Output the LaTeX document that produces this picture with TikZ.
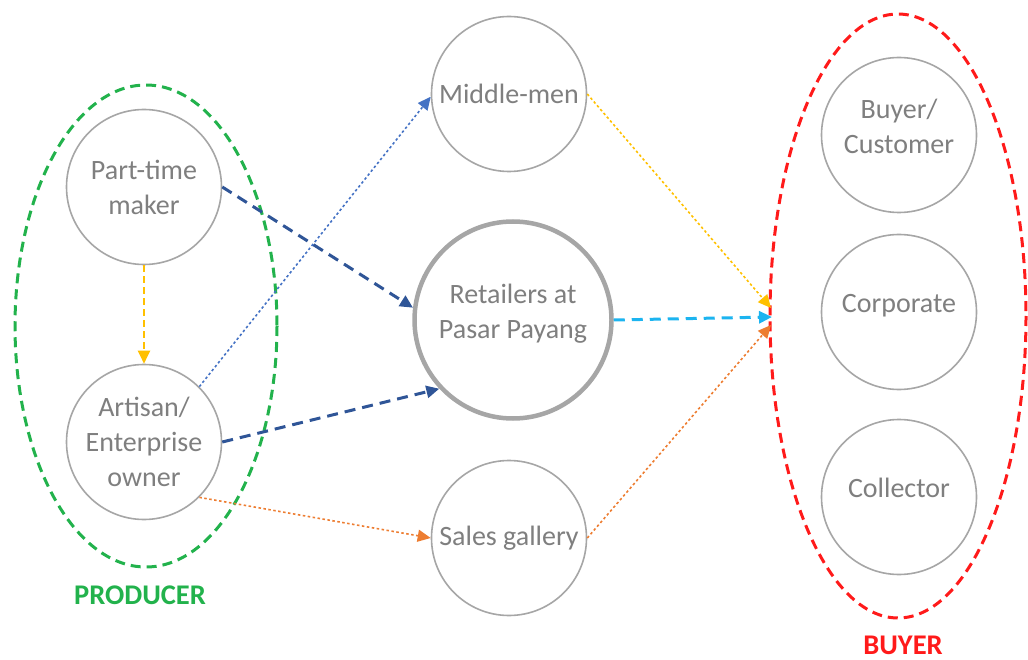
\documentclass[tikz,border=0pt]{standalone}
\usepackage{fontspec}
\setmainfont{Carlito}
\usetikzlibrary{arrows.meta}
\definecolor{txtgray}{HTML}{7F7F7F}
\definecolor{ringgray}{HTML}{A6A6A6}
\definecolor{grpgreen}{HTML}{22B24C}
\definecolor{grpred}{HTML}{FF1A1A}
\definecolor{darkblue}{HTML}{2F5597}
\definecolor{lightblue}{HTML}{4472C4}
\definecolor{gold}{HTML}{FFC000}
\definecolor{orangeln}{HTML}{ED7D31}
\definecolor{skyblue}{HTML}{1CB4F0}
\tikzset{
  actor/.style={circle, draw=ringgray, line width=1.6pt, fill=white,
    minimum size=155pt, inner sep=0pt, align=center, text=txtgray,
    font=\fontsize{28}{35}\selectfont},
  hubactor/.style={actor, line width=4.5pt, minimum size=197pt},
  % labels that sit a little above the middle of their ring
  raised/.style={text depth=18pt},
  grouplabel/.style={font=\fontsize{28.5}{33}\selectfont\bfseries},
  tip/.style={-{Triangle[length=13pt,width=12pt]}},
  strongflow/.style={tip, line width=3pt, dash pattern=on 11pt off 7pt},
  softflow/.style={tip, line width=1.6pt, dash pattern=on 2.5pt off 2.5pt},
  groupring/.style={line width=3pt, dash pattern=on 10pt off 6pt}
}
\begin{document}
\begin{tikzpicture}[x=1pt,y=-1pt]
\useasboundingbox (0,0) rectangle (1028,660);

% producer and buyer groups
\draw[groupring, grpgreen] (146,326) ellipse [x radius=131, y radius=241];
\draw[groupring, grpred] (898,316) ellipse [x radius=128, y radius=302];
\node[grouplabel, text=grpgreen] (prodlbl) at (140,595) {PRODUCER};
\node[grouplabel, text=grpred] (buylbl) at (903,645) {BUYER};

% actors
\node[actor] (part) at (144,187) {Part-time\\maker};
\node[actor] (art) at (144,442) {Artisan/\\Enterprise\\owner};
\node[actor] (mid) at (509,94) {Middle-men};
\node[hubactor, raised] (ret) at (513,320) {Retailers at\\Pasar Payang};
\node[actor] (gal) at (509,538) {Sales gallery};
\node[actor, raised] (cust) at (899,135) {Buyer/\\Customer};
\node[actor, raised] (corp) at (899,312) {Corporate};
\node[actor, raised] (coll) at (899,497) {Collector};

% meeting points on the buyer group
\coordinate (inA) at (771,308);
\coordinate (inB) at (772,317);
\coordinate (inC) at (771,325);

% flows
\draw[tip, gold, line width=2.2pt, dash pattern=on 7pt off 4pt] (part.south) -- (art.north);
\draw[strongflow, darkblue] (part.east) -- (ret.173);
\draw[strongflow, darkblue] (art.east) -- (ret.223);
\draw[softflow, lightblue] (art.45) -- (mid.182);
\draw[softflow, orangeln] (art.-45) -- (gal.west);
\draw[softflow, gold] (mid.east) -- (inA);
\draw[softflow, orangeln] (gal.east) -- (inC);
\draw[tip, skyblue, line width=3pt, dash pattern=on 11pt off 7pt] (ret.east) -- (inB);
\end{tikzpicture}
\end{document}
